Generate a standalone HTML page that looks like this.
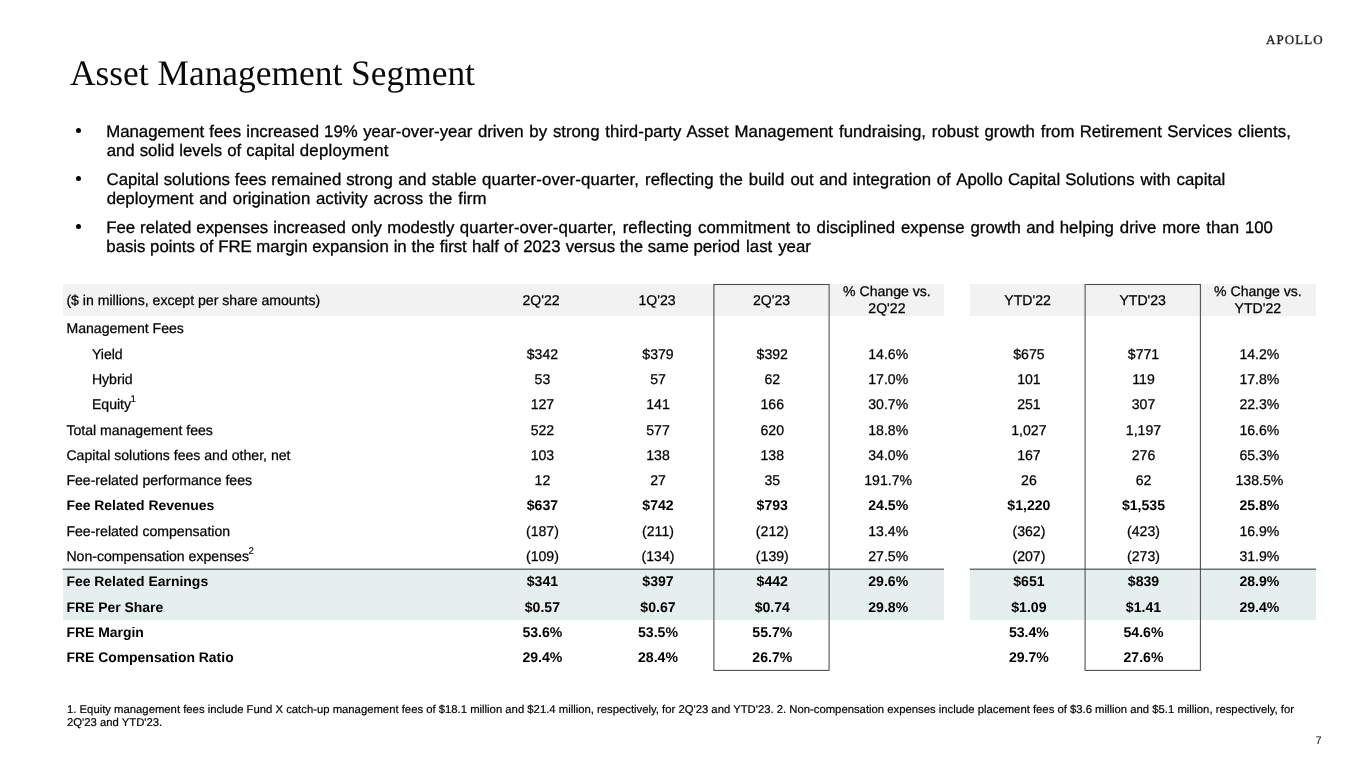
<!DOCTYPE html>
<html><head><meta charset="utf-8">
<style>
html,body{margin:0;padding:0;background:#fff;}
body{width:1365px;height:768px;position:relative;overflow:hidden;font-family:"Liberation Sans",sans-serif;color:#000;}
.abs{position:absolute;white-space:nowrap;}
#title{position:absolute;left:70.4px;top:49px;font-family:"Liberation Serif",serif;font-size:36px;line-height:48px;white-space:nowrap;transform-origin:0 0;transform:scaleX(0.983);color:#0a0a0a;letter-spacing:0px;}
#logo{-webkit-text-stroke:0.35px #222;position:absolute;left:1266.1px;top:32.3px;font-family:"Liberation Serif",serif;font-size:13px;line-height:16px;letter-spacing:1.05px;white-space:nowrap;color:#222;}
.bl{position:absolute;-webkit-text-stroke:0.3px #000;font-size:16.8px;line-height:19px;white-space:nowrap;color:#000;}
.dot{position:absolute;left:76.0px;width:5px;height:5px;border-radius:50%;background:#000;}
.hbg{position:absolute;background:#f2f2f2;top:284.2px;height:31.5px;}
.band{position:absolute;background:#e5f0ee;top:569px;height:50.5px;}
.r{-webkit-text-stroke:0.25px #000;position:absolute;font-size:14.1px;line-height:20px;white-space:nowrap;}
.r.c{width:120px;text-align:center;}
.r.b{font-weight:bold;-webkit-text-stroke:0;}
.r.b.l{font-size:13.95px;}
.r sup{margin-left:-0.5px;-webkit-text-stroke:0.15px #000;font-size:9.8px;line-height:0;vertical-align:baseline;position:relative;top:-7.5px;}
.h{-webkit-text-stroke:0.25px #000;position:absolute;font-size:14.1px;line-height:17px;white-space:nowrap;width:120px;text-align:center;}
.fn{-webkit-text-stroke:0.2px #000;position:absolute;left:67px;font-size:11.31px;line-height:13px;white-space:nowrap;}
#pg{position:absolute;left:1315.5px;top:733.6px;font-size:11.1px;line-height:14px;}
#wrap{text-rendering:geometricPrecision;position:absolute;left:0;top:0;width:1365px;height:768px;will-change:transform;}
</style></head><body><div id="wrap">
<div id="title">Asset Management Segment</div>
<div id="logo">APOLLO</div>

<div class="dot" style="top:128.4px"></div>
<div class="dot" style="top:176.3px"></div>
<div class="dot" style="top:224.2px"></div>
<div class="bl" style="top:122.00px;left:106.22px;word-spacing:0.492px;">Management fees increased</div>
<div class="bl" style="top:122.00px;left:324.12px;word-spacing:0.871px;">19% year-over-year</div>
<div class="bl" style="top:122.00px;left:477.89px;word-spacing:1.130px;">driven by strong</div>
<div class="bl" style="top:122.00px;left:605.35px;word-spacing:1.200px;letter-spacing:0.051px;">third-party Asset Management</div>
<div class="bl" style="top:122.00px;left:838.96px;word-spacing:1.200px;letter-spacing:0.020px;">fundraising, robust growth</div>
<div class="bl" style="top:122.00px;left:1040.86px;word-spacing:0.653px;">from Retirement</div>
<div class="bl" style="top:122.00px;left:1167.14px;word-spacing:1.200px;letter-spacing:0.084px;">Services clients,</div>
<div class="bl" style="top:141.00px;left:106.69px;word-spacing:0.375px;">and solid levels of capital</div>
<div class="bl" style="top:141.00px;left:299.79px;letter-spacing:0.218px;">deployment</div>
<div class="bl" style="top:170.00px;left:106.55px;word-spacing:0.197px;">Capital solutions fees remained</div>
<div class="bl" style="top:170.00px;left:346.13px;word-spacing:0.852px;">strong and stable</div>
<div class="bl" style="top:170.00px;left:482.09px;word-spacing:1.200px;letter-spacing:0.147px;">quarter-over-quarter,</div>
<div class="bl" style="top:170.00px;left:645.08px;word-spacing:1.200px;letter-spacing:0.040px;">reflecting the build</div>
<div class="bl" style="top:170.00px;left:790.39px;word-spacing:0.882px;">out and integration of</div>
<div class="bl" style="top:170.00px;left:956.27px;word-spacing:0.326px;">Apollo Capital</div>
<div class="bl" style="top:170.00px;left:1065.14px;word-spacing:1.200px;letter-spacing:0.049px;">Solutions with capital</div>
<div class="bl" style="top:189.00px;left:106.69px;word-spacing:1.035px;">deployment and origination</div>
<div class="bl" style="top:189.00px;left:315.99px;word-spacing:1.200px;letter-spacing:0.038px;">activity across the firm</div>
<div class="bl" style="top:218.00px;left:106.22px;word-spacing:0.297px;">Fee related expenses</div>
<div class="bl" style="top:218.00px;left:273.18px;word-spacing:0.610px;">increased only modestly</div>
<div class="bl" style="top:218.00px;left:459.69px;word-spacing:1.200px;letter-spacing:0.147px;">quarter-over-quarter,</div>
<div class="bl" style="top:218.00px;left:622.68px;word-spacing:1.200px;letter-spacing:0.114px;">reflecting commitment to</div>
<div class="bl" style="top:218.00px;left:816.59px;word-spacing:1.200px;letter-spacing:0.018px;">disciplined expense</div>
<div class="bl" style="top:218.00px;left:970.49px;word-spacing:0.769px;">growth and</div>
<div class="bl" style="top:218.00px;left:1059.74px;word-spacing:1.200px;letter-spacing:0.014px;">helping drive more than 100</div>
<div class="bl" style="top:237.00px;left:106.32px;word-spacing:-0.031px;">basis points of FRE margin</div>
<div class="bl" style="top:237.00px;left:312.29px;word-spacing:0.195px;">expansion in the</div>
<div class="bl" style="top:237.00px;left:439.76px;word-spacing:0.451px;">first half of 2023</div>
<div class="bl" style="top:237.00px;left:565.64px;">versus the same</div>
<div class="bl" style="top:237.00px;left:693.42px;word-spacing:1.200px;letter-spacing:0.020px;">period last year</div>

<div class="hbg" style="left:62.7px;width:881.2px"></div>
<div class="hbg" style="left:969.5px;width:346.3px"></div>
<div class="band" style="left:62.7px;width:881.2px"></div>
<div class="band" style="left:969.5px;width:346.3px"></div>
<svg id="lines" width="1365" height="768" viewBox="0 0 1365 768" style="position:absolute;left:0;top:0">
<line x1="62.5" y1="569.2" x2="944" y2="569.2" stroke="#687270" stroke-width="1.42"/>
<line x1="969.7" y1="569.2" x2="1316" y2="569.2" stroke="#687270" stroke-width="1.42"/>
<rect x="713.9" y="284.5" width="115.2" height="385.9" fill="none" stroke="#4d4d4d" stroke-width="1.07"/>
<rect x="1085.1" y="284.5" width="115.3" height="385.9" fill="none" stroke="#4d4d4d" stroke-width="1.07"/>
</svg>

<div class="r" style="top:290px;left:66.4px">($ in millions, except per share amounts)</div>
<div class="r c" style="top:290px;left:481.1px">2Q'22</div>
<div class="r c" style="top:290px;left:597.1px">1Q'23</div>
<div class="r c" style="top:290px;left:711.5px">2Q'23</div>
<div class="h" style="top:282.6px;left:826.9px">% Change vs.<br>2Q'22</div>
<div class="r c" style="top:290px;left:967.6px">YTD'22</div>
<div class="r c" style="top:290px;left:1082.7px">YTD'23</div>
<div class="h" style="top:282.6px;left:1197.9px">% Change vs.<br>YTD'22</div>

<div class="r l" style="top:318.31px;left:66.4px">Management Fees</div>
<div class="r l" style="top:343.61px;left:91.9px">Yield</div>
<div class="r c" style="top:343.61px;left:482.4px">$342</div>
<div class="r c" style="top:343.61px;left:598.0px">$379</div>
<div class="r c" style="top:343.61px;left:712.3px">$392</div>
<div class="r c" style="top:343.61px;left:828.2px">14.6%</div>
<div class="r c" style="top:343.61px;left:968.9px">$675</div>
<div class="r c" style="top:343.61px;left:1083.5px">$771</div>
<div class="r c" style="top:343.61px;left:1199.4px">14.2%</div>
<div class="r l" style="top:368.91px;left:91.9px">Hybrid</div>
<div class="r c" style="top:368.91px;left:482.4px">53</div>
<div class="r c" style="top:368.91px;left:598.0px">57</div>
<div class="r c" style="top:368.91px;left:712.3px">62</div>
<div class="r c" style="top:368.91px;left:828.2px">17.0%</div>
<div class="r c" style="top:368.91px;left:968.9px">101</div>
<div class="r c" style="top:368.91px;left:1083.5px">119</div>
<div class="r c" style="top:368.91px;left:1199.4px">17.8%</div>
<div class="r l" style="top:394.21px;left:91.9px">Equity<sup>1</sup></div>
<div class="r c" style="top:394.21px;left:482.4px">127</div>
<div class="r c" style="top:394.21px;left:598.0px">141</div>
<div class="r c" style="top:394.21px;left:712.3px">166</div>
<div class="r c" style="top:394.21px;left:828.2px">30.7%</div>
<div class="r c" style="top:394.21px;left:968.9px">251</div>
<div class="r c" style="top:394.21px;left:1083.5px">307</div>
<div class="r c" style="top:394.21px;left:1199.4px">22.3%</div>
<div class="r l" style="top:419.51px;left:66.4px">Total management fees</div>
<div class="r c" style="top:419.51px;left:482.4px">522</div>
<div class="r c" style="top:419.51px;left:598.0px">577</div>
<div class="r c" style="top:419.51px;left:712.3px">620</div>
<div class="r c" style="top:419.51px;left:828.2px">18.8%</div>
<div class="r c" style="top:419.51px;left:968.9px">1,027</div>
<div class="r c" style="top:419.51px;left:1083.5px">1,197</div>
<div class="r c" style="top:419.51px;left:1199.4px">16.6%</div>
<div class="r l" style="top:444.81px;left:66.4px">Capital solutions fees and other, net</div>
<div class="r c" style="top:444.81px;left:482.4px">103</div>
<div class="r c" style="top:444.81px;left:598.0px">138</div>
<div class="r c" style="top:444.81px;left:712.3px">138</div>
<div class="r c" style="top:444.81px;left:828.2px">34.0%</div>
<div class="r c" style="top:444.81px;left:968.9px">167</div>
<div class="r c" style="top:444.81px;left:1083.5px">276</div>
<div class="r c" style="top:444.81px;left:1199.4px">65.3%</div>
<div class="r l" style="top:470.11px;left:66.4px">Fee-related performance fees</div>
<div class="r c" style="top:470.11px;left:482.4px">12</div>
<div class="r c" style="top:470.11px;left:598.0px">27</div>
<div class="r c" style="top:470.11px;left:712.3px">35</div>
<div class="r c" style="top:470.11px;left:828.2px">191.7%</div>
<div class="r c" style="top:470.11px;left:968.9px">26</div>
<div class="r c" style="top:470.11px;left:1083.5px">62</div>
<div class="r c" style="top:470.11px;left:1199.4px">138.5%</div>
<div class="r b l" style="top:495.41px;left:66.4px">Fee Related Revenues</div>
<div class="r b c" style="top:495.41px;left:482.4px">$637</div>
<div class="r b c" style="top:495.41px;left:598.0px">$742</div>
<div class="r b c" style="top:495.41px;left:712.3px">$793</div>
<div class="r b c" style="top:495.41px;left:828.2px">24.5%</div>
<div class="r b c" style="top:495.41px;left:968.9px">$1,220</div>
<div class="r b c" style="top:495.41px;left:1083.5px">$1,535</div>
<div class="r b c" style="top:495.41px;left:1199.4px">25.8%</div>
<div class="r l" style="top:520.71px;left:66.4px">Fee-related compensation</div>
<div class="r c" style="top:520.71px;left:482.4px">(187)</div>
<div class="r c" style="top:520.71px;left:598.0px">(211)</div>
<div class="r c" style="top:520.71px;left:712.3px">(212)</div>
<div class="r c" style="top:520.71px;left:828.2px">13.4%</div>
<div class="r c" style="top:520.71px;left:968.9px">(362)</div>
<div class="r c" style="top:520.71px;left:1083.5px">(423)</div>
<div class="r c" style="top:520.71px;left:1199.4px">16.9%</div>
<div class="r l" style="top:546.01px;left:66.4px">Non-compensation expenses<sup>2</sup></div>
<div class="r c" style="top:546.01px;left:482.4px">(109)</div>
<div class="r c" style="top:546.01px;left:598.0px">(134)</div>
<div class="r c" style="top:546.01px;left:712.3px">(139)</div>
<div class="r c" style="top:546.01px;left:828.2px">27.5%</div>
<div class="r c" style="top:546.01px;left:968.9px">(207)</div>
<div class="r c" style="top:546.01px;left:1083.5px">(273)</div>
<div class="r c" style="top:546.01px;left:1199.4px">31.9%</div>
<div class="r b l" style="top:571.31px;left:66.4px">Fee Related Earnings</div>
<div class="r b c" style="top:571.31px;left:482.4px">$341</div>
<div class="r b c" style="top:571.31px;left:598.0px">$397</div>
<div class="r b c" style="top:571.31px;left:712.3px">$442</div>
<div class="r b c" style="top:571.31px;left:828.2px">29.6%</div>
<div class="r b c" style="top:571.31px;left:968.9px">$651</div>
<div class="r b c" style="top:571.31px;left:1083.5px">$839</div>
<div class="r b c" style="top:571.31px;left:1199.4px">28.9%</div>
<div class="r b l" style="top:596.61px;left:66.4px">FRE Per Share</div>
<div class="r b c" style="top:596.61px;left:482.4px">$0.57</div>
<div class="r b c" style="top:596.61px;left:598.0px">$0.67</div>
<div class="r b c" style="top:596.61px;left:712.3px">$0.74</div>
<div class="r b c" style="top:596.61px;left:828.2px">29.8%</div>
<div class="r b c" style="top:596.61px;left:968.9px">$1.09</div>
<div class="r b c" style="top:596.61px;left:1083.5px">$1.41</div>
<div class="r b c" style="top:596.61px;left:1199.4px">29.4%</div>
<div class="r b l" style="top:621.91px;left:66.4px">FRE Margin</div>
<div class="r b c" style="top:621.91px;left:482.4px">53.6%</div>
<div class="r b c" style="top:621.91px;left:598.0px">53.5%</div>
<div class="r b c" style="top:621.91px;left:712.3px">55.7%</div>
<div class="r b c" style="top:621.91px;left:968.9px">53.4%</div>
<div class="r b c" style="top:621.91px;left:1083.5px">54.6%</div>
<div class="r b l" style="top:647.21px;left:66.4px">FRE Compensation Ratio</div>
<div class="r b c" style="top:647.21px;left:482.4px">29.4%</div>
<div class="r b c" style="top:647.21px;left:598.0px">28.4%</div>
<div class="r b c" style="top:647.21px;left:712.3px">26.7%</div>
<div class="r b c" style="top:647.21px;left:968.9px">29.7%</div>
<div class="r b c" style="top:647.21px;left:1083.5px">27.6%</div>

<div class="fn" style="top:704.1px">1. Equity management fees include Fund X catch-up management fees of $18.1 million and $21.4 million, respectively, for 2Q'23 and YTD'23. 2. Non-compensation expenses include placement fees of $3.6 million and $5.1 million, respectively, for<br>2Q'23 and YTD'23.</div>
<div id="pg">7</div>
</div></body></html>
